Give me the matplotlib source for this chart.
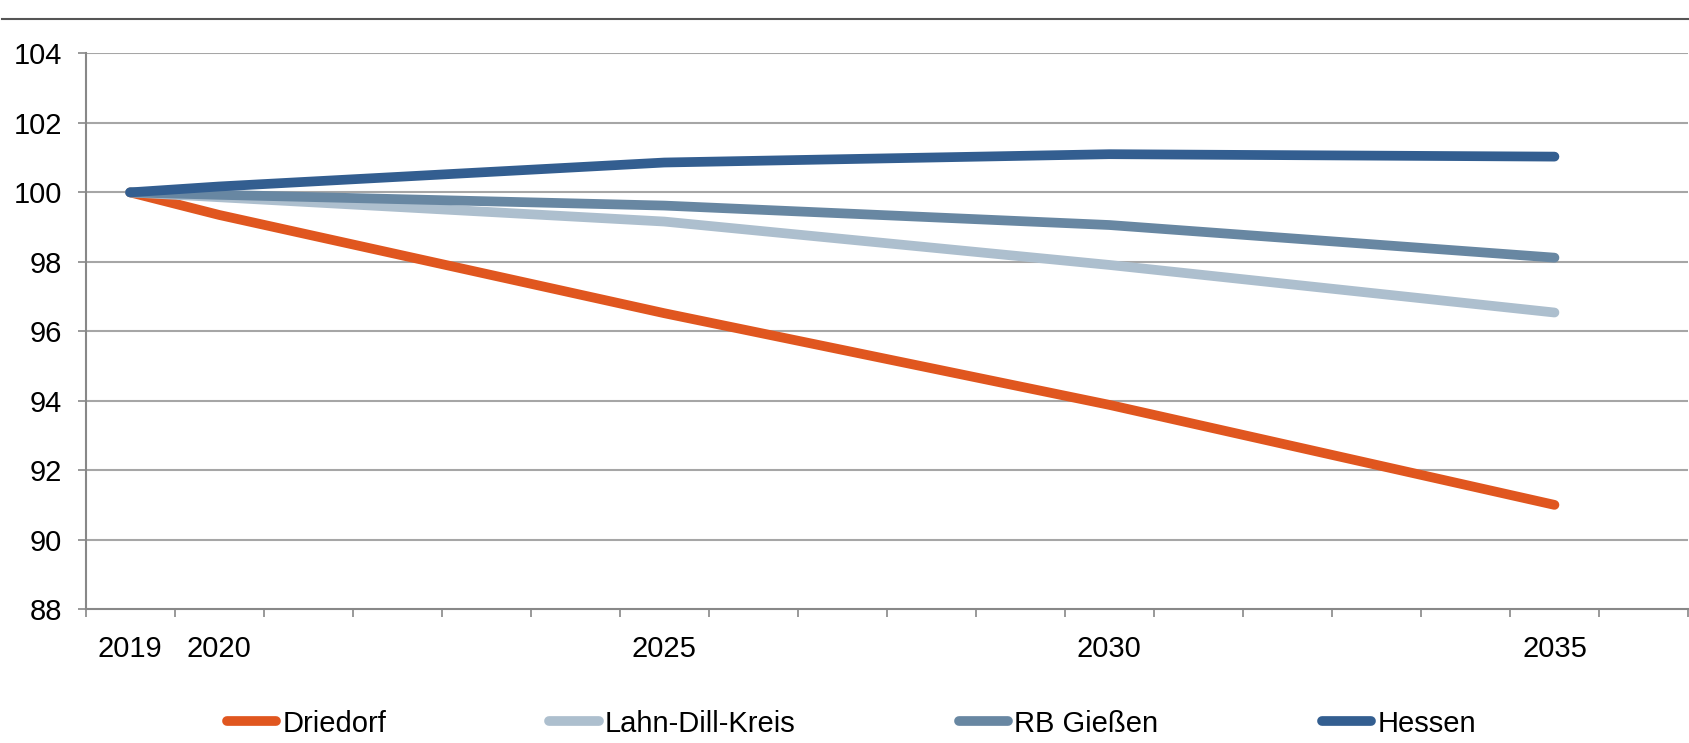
import numpy as np
import matplotlib
matplotlib.use("Agg")
import matplotlib.pyplot as plt
from matplotlib.lines import Line2D

plt.rcParams["font.family"] = ["Liberation Sans Narrow", "Liberation Sans", "DejaVu Sans"]

# category axis: 2019 .. 2036, only some years labelled
categories = list(range(2019, 2037))
shown_labels = {2019: "2019", 2020: "2020", 2025: "2025", 2030: "2030", 2035: "2035"}

# index values (2019 = 100)
years = [2019, 2020, 2025, 2030, 2035]
driedorf = [100.0, 99.35, 96.52, 93.88, 91.0]
lahn_dill = [100.0, 99.86, 99.16, 97.91, 96.54]
rb_giessen = [100.0, 99.93, 99.62, 99.06, 98.12]
hessen = [100.0, 100.17, 100.86, 101.1, 101.03]

SERIES = [
    ("Driedorf", driedorf, "#E0561F"),
    ("Lahn-Dill-Kreis", lahn_dill, "#ADBFCE"),
    ("RB Gießen", rb_giessen, "#6887A2"),
    ("Hessen", hessen, "#335E90"),
]

fig = plt.figure(figsize=(16.89, 7.43), dpi=100)
ax = fig.add_axes([0.0507, 0.1803, 0.9487, 0.7477])

xpos = [categories.index(y) for y in years]
for name, vals, col in SERIES:
    ax.plot(xpos, vals, color=col, linewidth=7, solid_capstyle="round",
            solid_joinstyle="round", label=name, zorder=3)

ax.set_xlim(-0.5, len(categories) - 0.5)
ax.set_ylim(88, 104)
ax.set_yticks(np.arange(88, 105, 2))
ax.tick_params(axis="y", labelsize=21, length=6, width=1.2, color="#888888", pad=11)

# labels at category centres, tick marks at category boundaries
ax.set_xticks(range(len(categories)))
ax.set_xticklabels([shown_labels.get(c, "") for c in categories])
ax.set_xticks(np.arange(-0.5, len(categories)), minor=True)
ax.tick_params(axis="x", which="major", length=0, labelsize=21, pad=19)
ax.tick_params(axis="x", which="minor", length=6, width=1.2, color="#888888")

for v in range(90, 105, 2):
    ax.axhline(v, color="#A6A6A6", linewidth=1.5, zorder=1)

for s in ["top", "right"]:
    ax.spines[s].set_visible(False)
for s in ["left", "bottom"]:
    ax.spines[s].set_color("#888888")
    ax.spines[s].set_linewidth(1.5)

# header rule
fig.add_artist(Line2D([0.001, 1.0], [0.975, 0.975], color="#555555", linewidth=1.5))

handles = [Line2D([], [], color=c, linewidth=7, solid_capstyle="round") for _, _, c in SERIES]
fig.legend(handles, [n for n, _, _ in SERIES], loc="center", bbox_to_anchor=(0.504, 0.026),
           ncol=4, frameon=False, fontsize=21, handlelength=1.7, handletextpad=0.2,
           columnspacing=5.6, borderaxespad=0)

fig.savefig("out.png", dpi=100)
